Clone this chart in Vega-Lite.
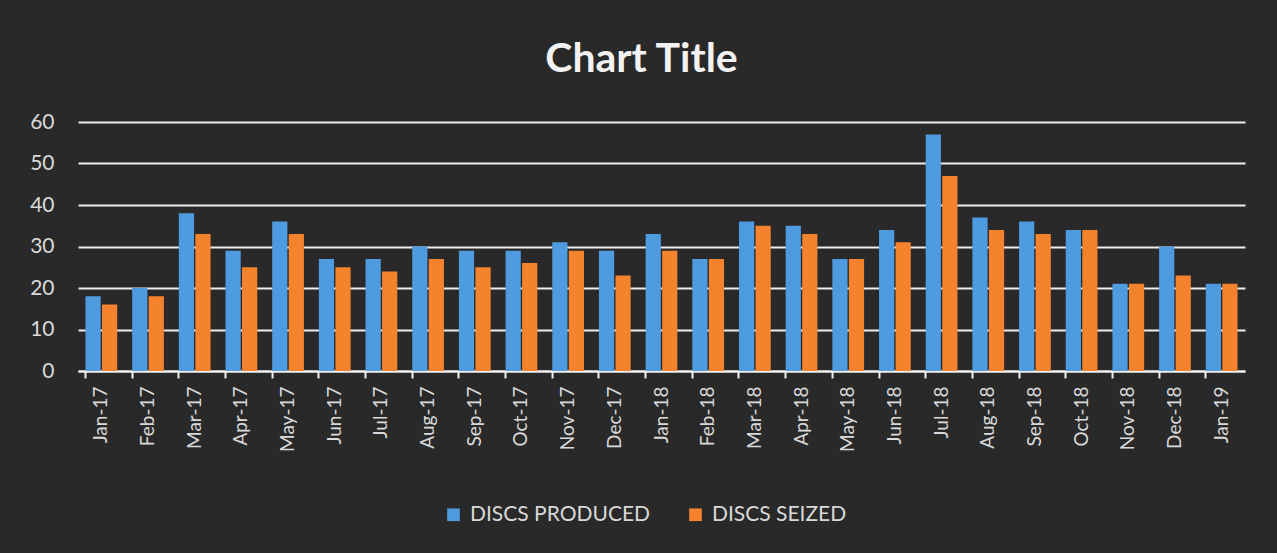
{
  "$schema": "https://vega.github.io/schema/vega-lite/v6.json",
  "width": 1167,
  "height": 249,
  "autosize": {"type": "none"},
  "padding": {"left": 78, "top": 122, "right": 32, "bottom": 182},
  "background": "#292929",
  "title": {
    "text": "Chart Title",
    "font": "Lato",
    "fontSize": 41,
    "fontWeight": "bold",
    "color": "#f2f2f2",
    "anchor": "middle",
    "dx": -20,
    "offset": 30
  },
  "config": {
    "view": {"stroke": null},
    "font": "Lato"
  },
  "data": {
    "values": [
      {"month": "Jan-17", "series": "DISCS PRODUCED", "value": 18},
      {"month": "Jan-17", "series": "DISCS SEIZED", "value": 16},
      {"month": "Feb-17", "series": "DISCS PRODUCED", "value": 20},
      {"month": "Feb-17", "series": "DISCS SEIZED", "value": 18},
      {"month": "Mar-17", "series": "DISCS PRODUCED", "value": 38},
      {"month": "Mar-17", "series": "DISCS SEIZED", "value": 33},
      {"month": "Apr-17", "series": "DISCS PRODUCED", "value": 29},
      {"month": "Apr-17", "series": "DISCS SEIZED", "value": 25},
      {"month": "May-17", "series": "DISCS PRODUCED", "value": 36},
      {"month": "May-17", "series": "DISCS SEIZED", "value": 33},
      {"month": "Jun-17", "series": "DISCS PRODUCED", "value": 27},
      {"month": "Jun-17", "series": "DISCS SEIZED", "value": 25},
      {"month": "Jul-17", "series": "DISCS PRODUCED", "value": 27},
      {"month": "Jul-17", "series": "DISCS SEIZED", "value": 24},
      {"month": "Aug-17", "series": "DISCS PRODUCED", "value": 30},
      {"month": "Aug-17", "series": "DISCS SEIZED", "value": 27},
      {"month": "Sep-17", "series": "DISCS PRODUCED", "value": 29},
      {"month": "Sep-17", "series": "DISCS SEIZED", "value": 25},
      {"month": "Oct-17", "series": "DISCS PRODUCED", "value": 29},
      {"month": "Oct-17", "series": "DISCS SEIZED", "value": 26},
      {"month": "Nov-17", "series": "DISCS PRODUCED", "value": 31},
      {"month": "Nov-17", "series": "DISCS SEIZED", "value": 29},
      {"month": "Dec-17", "series": "DISCS PRODUCED", "value": 29},
      {"month": "Dec-17", "series": "DISCS SEIZED", "value": 23},
      {"month": "Jan-18", "series": "DISCS PRODUCED", "value": 33},
      {"month": "Jan-18", "series": "DISCS SEIZED", "value": 29},
      {"month": "Feb-18", "series": "DISCS PRODUCED", "value": 27},
      {"month": "Feb-18", "series": "DISCS SEIZED", "value": 27},
      {"month": "Mar-18", "series": "DISCS PRODUCED", "value": 36},
      {"month": "Mar-18", "series": "DISCS SEIZED", "value": 35},
      {"month": "Apr-18", "series": "DISCS PRODUCED", "value": 35},
      {"month": "Apr-18", "series": "DISCS SEIZED", "value": 33},
      {"month": "May-18", "series": "DISCS PRODUCED", "value": 27},
      {"month": "May-18", "series": "DISCS SEIZED", "value": 27},
      {"month": "Jun-18", "series": "DISCS PRODUCED", "value": 34},
      {"month": "Jun-18", "series": "DISCS SEIZED", "value": 31},
      {"month": "Jul-18", "series": "DISCS PRODUCED", "value": 57},
      {"month": "Jul-18", "series": "DISCS SEIZED", "value": 47},
      {"month": "Aug-18", "series": "DISCS PRODUCED", "value": 37},
      {"month": "Aug-18", "series": "DISCS SEIZED", "value": 34},
      {"month": "Sep-18", "series": "DISCS PRODUCED", "value": 36},
      {"month": "Sep-18", "series": "DISCS SEIZED", "value": 33},
      {"month": "Oct-18", "series": "DISCS PRODUCED", "value": 34},
      {"month": "Oct-18", "series": "DISCS SEIZED", "value": 34},
      {"month": "Nov-18", "series": "DISCS PRODUCED", "value": 21},
      {"month": "Nov-18", "series": "DISCS SEIZED", "value": 21},
      {"month": "Dec-18", "series": "DISCS PRODUCED", "value": 30},
      {"month": "Dec-18", "series": "DISCS SEIZED", "value": 23},
      {"month": "Jan-19", "series": "DISCS PRODUCED", "value": 21},
      {"month": "Jan-19", "series": "DISCS SEIZED", "value": 21}
    ]
  },
  "mark": {"type": "bar"},
  "encoding": {
    "x": {
      "field": "month",
      "type": "nominal",
      "sort": null,
      "scale": {"paddingInner": 0.32, "paddingOuter": 0.16},
      "axis": {
        "title": null,
        "labelAngle": 270,
        "labelColor": "#d9d9d9",
        "labelFontSize": 19,
        "labelPadding": 8,
        "domainColor": "#f2f2f2",
        "domainWidth": 2,
        "tickColor": "#f2f2f2",
        "tickWidth": 2,
        "tickSize": 7,
        "bandPosition": 0,
        "grid": false
      }
    },
    "xOffset": {
      "field": "series",
      "type": "nominal",
      "scale": {"paddingInner": 0.08}
    },
    "y": {
      "field": "value",
      "type": "quantitative",
      "scale": {"domain": [0, 60]},
      "axis": {
        "title": null,
        "values": [0, 10, 20, 30, 40, 50, 60],
        "labelColor": "#d9d9d9",
        "labelFontSize": 21,
        "labelPadding": 24,
        "domain": false,
        "ticks": false,
        "gridColor": "#ededed",
        "gridWidth": 2.2,
        "gridOpacity": 1
      }
    },
    "color": {
      "field": "series",
      "type": "nominal",
      "scale": {
        "domain": ["DISCS PRODUCED", "DISCS SEIZED"],
        "range": ["#4f9be0", "#f5822d"]
      },
      "legend": {
        "title": null,
        "orient": "none",
        "direction": "horizontal",
        "legendX": 365,
        "legendY": 382,
        "symbolType": "square",
        "symbolSize": 160,
        "symbolStrokeWidth": 0,
        "labelColor": "#d9d9d9",
        "labelFontSize": 21,
        "labelOffset": 6,
        "labelLimit": 400,
        "columnPadding": 34
      }
    }
  }
}
